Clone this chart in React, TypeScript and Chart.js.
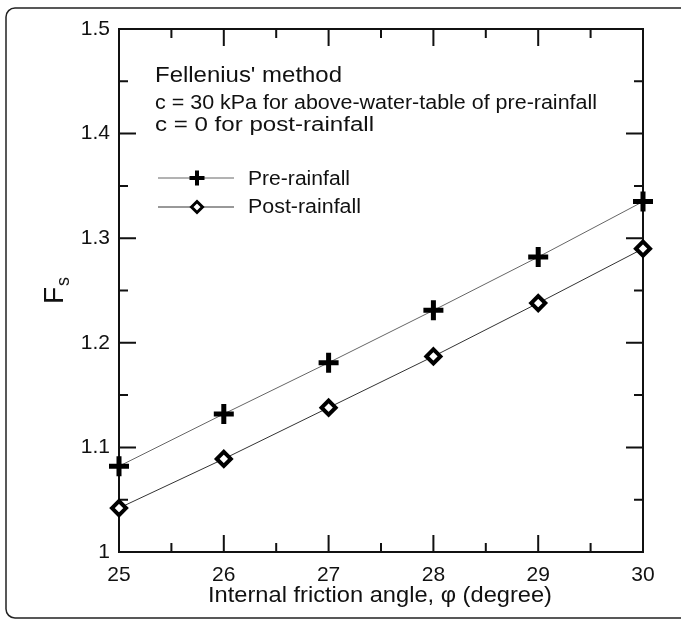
import React, { useEffect, useRef } from 'react';
import { Chart, registerables } from 'chart.js';

Chart.register(...registerables);

// ---- data ----
const angles = [25, 26, 27, 28, 29, 30];
const preRainfall = [1.082, 1.132, 1.181, 1.231, 1.282, 1.335];
const postRainfall = [1.042, 1.089, 1.138, 1.187, 1.238, 1.29];
const seriesNames = ['Pre-rainfall', 'Post-rainfall'];
const xTickValues = [25, 26, 27, 28, 29, 30];
const yTickValues = [1, 1.1, 1.2, 1.3, 1.4, 1.5];
const noteLines = [
  "Fellenius' method",
  'c = 30 kPa for above-water-table of pre-rainfall',
  'c = 0 for post-rainfall',
];
const xTitle = 'Internal friction angle, \u03c6 (degree)';

const FONT = '"Liberation Sans", Arial, Helvetica, sans-serif';

function stretchedText(
  ctx: CanvasRenderingContext2D,
  text: string,
  x: number,
  y: number,
  size: number,
  targetWidth: number
) {
  ctx.save();
  ctx.font = `${size}px ${FONT}`;
  ctx.textAlign = 'left';
  ctx.textBaseline = 'alphabetic';
  const w = ctx.measureText(text).width;
  const sx = targetWidth / w;
  ctx.translate(x, y);
  ctx.scale(sx, 1);
  ctx.fillText(text, 0, 0);
  ctx.restore();
}

function drawCross(ctx: CanvasRenderingContext2D, x: number, y: number, r: number, lw: number) {
  ctx.save();
  ctx.strokeStyle = '#000';
  ctx.lineWidth = lw;
  ctx.beginPath();
  ctx.moveTo(x - r, y);
  ctx.lineTo(x + r, y);
  ctx.moveTo(x, y - r);
  ctx.lineTo(x, y + r);
  ctx.stroke();
  ctx.restore();
}

function drawDiamond(ctx: CanvasRenderingContext2D, x: number, y: number, r: number, lw: number) {
  ctx.save();
  ctx.strokeStyle = '#000';
  ctx.fillStyle = '#fff';
  ctx.lineWidth = lw;
  ctx.beginPath();
  ctx.moveTo(x - r, y);
  ctx.lineTo(x, y - r);
  ctx.lineTo(x + r, y);
  ctx.lineTo(x, y + r);
  ctx.closePath();
  ctx.fill();
  ctx.stroke();
  ctx.restore();
}

const decorPlugin = {
  id: 'decor',
  beforeDraw(chart: any) {
    const ctx: CanvasRenderingContext2D = chart.ctx;
    ctx.save();
    ctx.fillStyle = '#fff';
    ctx.fillRect(0, 0, chart.width, chart.height);
    // outer rounded frame
    ctx.strokeStyle = '#222';
    ctx.lineWidth = 1.5;
    ctx.beginPath();
    const L = 6, T = 8, B = 618, R = 681, rad = 9;
    ctx.moveTo(R, T);
    ctx.lineTo(L + rad, T);
    ctx.arcTo(L, T, L, T + rad, rad);
    ctx.lineTo(L, B - rad);
    ctx.arcTo(L, B, L + rad, B, rad);
    ctx.lineTo(R, B);
    ctx.stroke();
    ctx.restore();
  },
  beforeDatasetsDraw(chart: any) {
    const ctx: CanvasRenderingContext2D = chart.ctx;
    const { left, right, top, bottom } = chart.chartArea;
    const xs = chart.scales.x;
    const ys = chart.scales.y;
    ctx.save();
    ctx.strokeStyle = '#111';
    ctx.lineWidth = 2;
    ctx.strokeRect(left, top, right - left, bottom - top);
    // ticks (inward, all four sides)
    ctx.beginPath();
    for (let v = 25; v <= 30.001; v += 0.5) {
      const major = Math.abs(v - Math.round(v)) < 1e-6;
      const len = major ? 17 : 9;
      const px = xs.getPixelForValue(v);
      ctx.moveTo(px, bottom);
      ctx.lineTo(px, bottom - len);
      ctx.moveTo(px, top);
      ctx.lineTo(px, top + len);
    }
    for (let i = 0; i <= 10; i++) {
      const v = 1 + i * 0.05;
      const major = i % 2 === 0;
      const len = major ? 17 : 9;
      const py = ys.getPixelForValue(v);
      ctx.moveTo(left, py);
      ctx.lineTo(left + len, py);
      ctx.moveTo(right, py);
      ctx.lineTo(right - len, py);
    }
    ctx.stroke();
    ctx.restore();
  },
  afterDraw(chart: any) {
    const ctx: CanvasRenderingContext2D = chart.ctx;
    ctx.save();
    ctx.fillStyle = '#111';
    // annotation text
    stretchedText(ctx, noteLines[0], 155, 82, 22, 187);
    stretchedText(ctx, noteLines[1], 155, 109, 20, 442);
    stretchedText(ctx, noteLines[2], 155, 131, 20, 219);

    // legend
    ctx.lineWidth = 1;
    ctx.strokeStyle = '#666';
    ctx.beginPath();
    ctx.moveTo(158, 178);
    ctx.lineTo(234, 178);
    ctx.stroke();
    ctx.strokeStyle = '#333';
    ctx.beginPath();
    ctx.moveTo(158, 207);
    ctx.lineTo(234, 207);
    ctx.stroke();
    drawCross(ctx, 197, 178, 7.5, 4);
    drawDiamond(ctx, 197, 207, 5.5, 3);
    ctx.fillStyle = '#111';
    stretchedText(ctx, seriesNames[0], 248, 185, 20, 102);
    stretchedText(ctx, seriesNames[1], 248, 213, 20, 113);

    // x title
    stretchedText(ctx, xTitle, 208, 602, 22, 344);

    // y title F_s (rotated)
    ctx.save();
    ctx.translate(63, 304);
    ctx.rotate(-Math.PI / 2);
    ctx.font = `28px ${FONT}`;
    ctx.textAlign = 'left';
    ctx.textBaseline = 'alphabetic';
    ctx.fillText('F', 0, 0);
    const fw = ctx.measureText('F').width;
    ctx.font = `18px ${FONT}`;
    ctx.fillText('s', fw + 1, 6);
    ctx.restore();

    ctx.restore();
  },
};

export default function App() {
  const ref = useRef<HTMLCanvasElement | null>(null);

  useEffect(() => {
    if (!ref.current) return;
    const chart = new Chart(ref.current, {
      type: 'line',
      data: {
        datasets: [
          {
            label: seriesNames[0],
            data: angles.map((a, i) => ({ x: a, y: preRainfall[i] })),
            borderColor: '#666',
            borderWidth: 1,
            pointStyle: 'cross',
            pointRadius: 10,
            pointBorderWidth: 5,
            pointBorderColor: '#000',
            pointBackgroundColor: '#000',
            fill: false,
            tension: 0,
            clip: false,
          },
          {
            label: seriesNames[1],
            data: angles.map((a, i) => ({ x: a, y: postRainfall[i] })),
            borderColor: '#333',
            borderWidth: 1,
            pointStyle: 'rectRot',
            pointRadius: 7,
            pointBorderWidth: 4,
            pointBorderColor: '#000',
            pointBackgroundColor: '#fff',
            fill: false,
            tension: 0,
            clip: false,
          },
        ],
      },
      options: {
        animation: false,
        responsive: false,
        events: [],
        layout: { padding: { left: 0, top: 29, right: 38, bottom: 0 } },
        plugins: {
          legend: { display: false },
          tooltip: { enabled: false },
          title: { display: false },
        },
        scales: {
          x: {
            type: 'linear',
            min: 25,
            max: 30,
            afterFit: (s: any) => {
              s.height = 69;
            },
            afterBuildTicks: (s: any) => {
              s.ticks = xTickValues.map((v) => ({ value: v }));
            },
            grid: { display: false, drawTicks: false },
            border: { display: false },
            ticks: {
              autoSkip: false,
              maxRotation: 0,
              padding: 11,
              color: '#111',
              font: { family: FONT, size: 21 },
              callback: (v: any) => String(v),
            },
          },
          y: {
            type: 'linear',
            min: 1,
            max: 1.5,
            afterFit: (s: any) => {
              s.width = 119;
            },
            afterBuildTicks: (s: any) => {
              s.ticks = yTickValues.map((v) => ({ value: v }));
            },
            grid: { display: false, drawTicks: false },
            border: { display: false },
            ticks: {
              autoSkip: false,
              padding: 9,
              color: '#111',
              font: { family: FONT, size: 21 },
              callback: (v: any) => String(Number(Number(v).toFixed(1))),
            },
          },
        },
      },
      plugins: [decorPlugin],
    });
    return () => chart.destroy();
  }, []);

  return (
    <div style={{ position: 'absolute', left: 0, top: 0, width: 681, height: 621 }}>
      <canvas ref={ref} width={681} height={621} style={{ display: 'block', width: 681, height: 621 }} />
    </div>
  );
}
